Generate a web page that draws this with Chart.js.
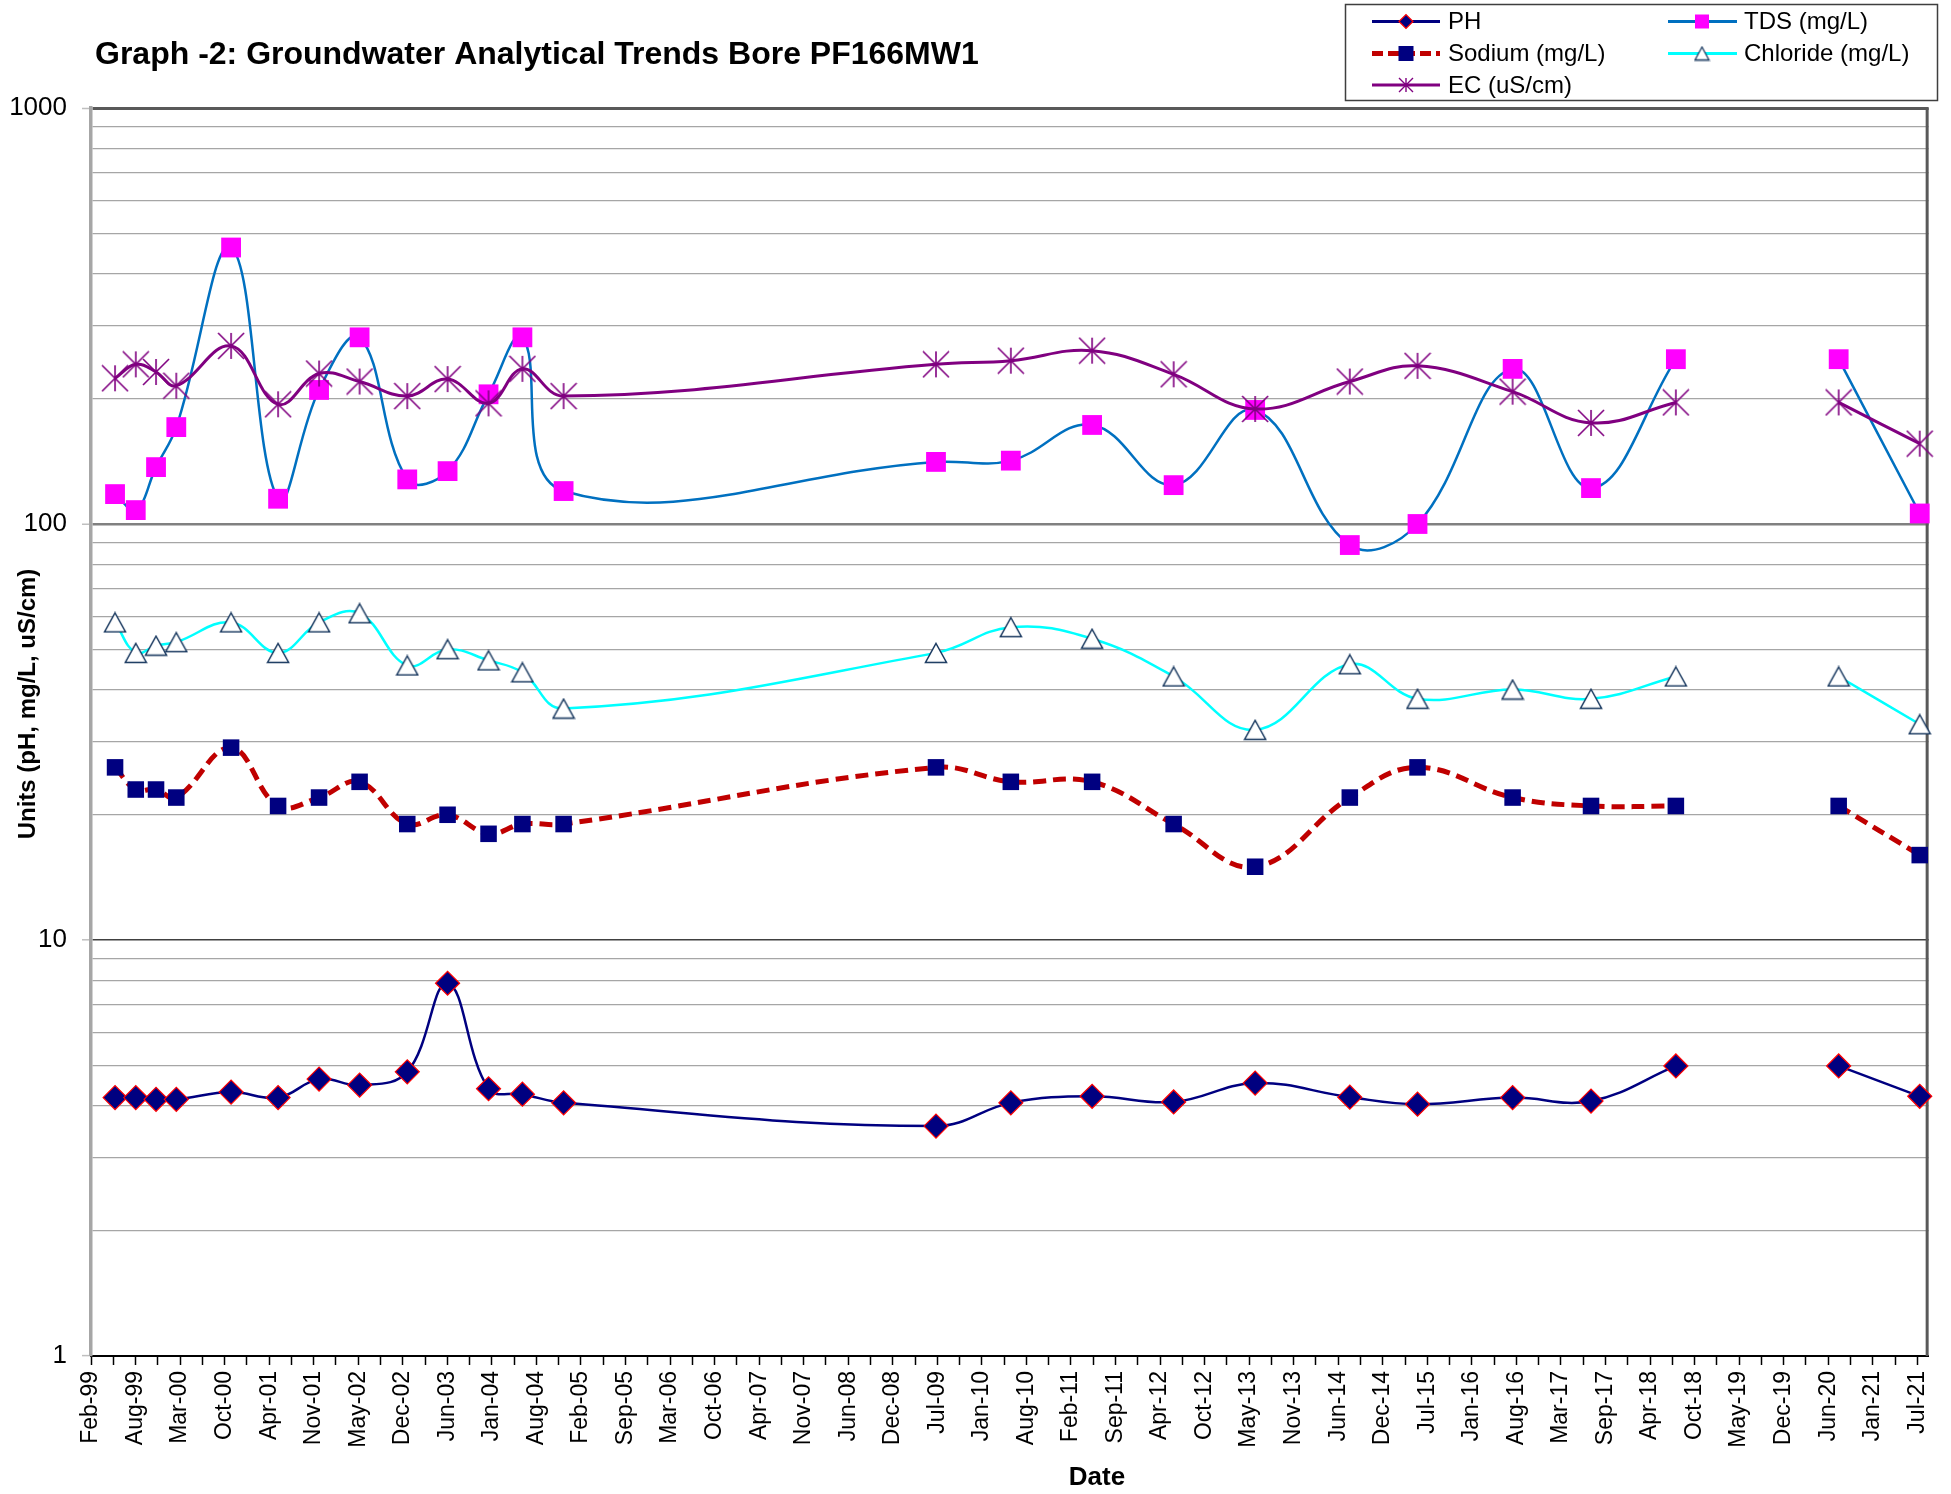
<!DOCTYPE html>
<html>
<head>
<meta charset="utf-8">
<script src="https://cdn.jsdelivr.net/npm/chart.js@4.4.0/dist/chart.umd.min.js"></script>
<style>
html,body{margin:0;padding:0;background:#ffffff;}
canvas{display:block;}
</style>
</head>
<body>
<canvas id="c" width="1951" height="1494"></canvas>
<script>
// ---------------- data ----------------
const chartTitle = 'Graph -2: Groundwater Analytical Trends Bore PF166MW1';
const xTitle = 'Date';
const yTitle = 'Units (pH, mg/L, uS/cm)';
const seriesNames = ['PH', 'TDS (mg/L)', 'Sodium (mg/L)', 'Chloride (mg/L)', 'EC (uS/cm)'];

const sampleDates = [
  '1999-05-28','1999-08-29','1999-11-28','2000-02-27','2000-10-30','2001-05-29',
  '2001-11-29','2002-05-30','2002-12-30','2003-06-29','2003-12-30','2004-05-30',
  '2004-12-01','2009-06-30','2010-06-01','2011-06-01','2012-06-01','2013-06-02',
  '2014-08-01','2015-06-01','2016-08-01','2017-07-19','2018-08-04','2019-08-01',
  '2020-08-04','2021-08-03'
];
const ph       = [4.18,4.18,4.14,4.14,4.31,4.18,4.63,4.48,4.82,7.87,4.39,4.26,4.06,3.57,4.06,4.21,4.08,4.53,4.19,4.03,4.18,4.10,4.98,null,4.98,4.21];
const tds      = [118,108,137,171,462,115,210,281,128,134,205,281,120,141,142,173,124,188,89,100,236,122,249,null,249,106];
const sodium   = [26,23,23,22,29,21,22,24,19,20,18,19,19,26,24,24,19,15,22,26,22,21,21,null,21,16];
const chloride = [58,49,51,52,58,49,58,61,45.7,50,47,44,36,49,56.5,53,43,32,46,38,40,38,43,null,43,33];
const ec       = [224,242,232,215,268,194,230,220,203,223,195,236,203,242,247,261,229,189,220,240,208,175,196,null,196,156];

const xTickLabels = [
  'Feb-99','Aug-99','Mar-00','Oct-00','Apr-01','Nov-01','May-02','Dec-02','Jun-03','Jan-04',
  'Aug-04','Feb-05','Sep-05','Mar-06','Oct-06','Apr-07','Nov-07','Jun-08','Dec-08','Jul-09',
  'Jan-10','Aug-10','Feb-11','Sep-11','Apr-12','Oct-12','May-13','Nov-13','Jun-14','Dec-14',
  'Jul-15','Jan-16','Aug-16','Mar-17','Sep-17','Apr-18','Oct-18','May-19','Dec-19','Jun-20',
  'Jan-21','Jul-21'
];
const xAxisStart = 36200;   // Excel serial date of 9-Feb-1999
const xAxisEnd = 44451;
const xMajorStep = 200;
const xMinorStep = 100;
const yTickValues = [1, 10, 100, 1000];

// ---------------- helpers ----------------
const FONT = '"Liberation Sans", Arial, Helvetica, sans-serif';
function toSerial(s) {
  const p = s.split('-').map(Number);
  return Math.round((Date.UTC(p[0], p[1] - 1, p[2]) - Date.UTC(1899, 11, 30)) / 86400000);
}
const xs = sampleDates.map(toSerial);
function pts(arr) { return arr.map((v, i) => ({ x: xs[i], y: v })); }
function isDecade(v) { const l = Math.log10(v); return Math.abs(l - Math.round(l)) < 1e-9; }

function makeAsterisk(size, color, lw) {
  const c = document.createElement('canvas');
  c.width = size; c.height = size;
  const g = c.getContext('2d');
  g.strokeStyle = color; g.lineWidth = lw;
  const m = size / 2, r = size / 2 - 1;
  g.beginPath();
  g.moveTo(m, m - r); g.lineTo(m, m + r);
  g.moveTo(m - r, m - r); g.lineTo(m + r, m + r);
  g.moveTo(m + r, m - r); g.lineTo(m - r, m + r);
  g.stroke();
  return c;
}
function makeTriangle(w, h, stroke, fill, lw) {
  const c = document.createElement('canvas');
  c.width = Math.ceil(w + lw * 2); c.height = Math.ceil(h + lw * 2);
  const g = c.getContext('2d');
  const ox = (c.width - w) / 2, oy = (c.height - h) / 2;
  g.beginPath();
  g.moveTo(ox + w / 2, oy); g.lineTo(ox + w, oy + h); g.lineTo(ox, oy + h); g.closePath();
  g.fillStyle = fill; g.fill();
  g.strokeStyle = stroke; g.lineWidth = lw; g.stroke();
  return c;
}

const ecStar = makeAsterisk(28, '#800080', 1.6);
const clTri = makeTriangle(21, 19, '#17375E', '#FFFFFF', 1.5);
const ecStarSmall = makeAsterisk(16, '#800080', 1.4);
const clTriSmall = makeTriangle(14, 13, '#17375E', '#FFFFFF', 1.3);

// ---------------- plugin: title, legend, axis titles, frame ----------------
const decorPlugin = {
  id: 'decor',
  beforeDraw(chart) {
    const ctx = chart.ctx;
    ctx.save(); ctx.fillStyle = '#ffffff'; ctx.fillRect(0, 0, chart.width, chart.height); ctx.restore();
  },
  beforeDatasetsDraw(chart) {
    const ctx = chart.ctx, a = chart.chartArea;
    ctx.save();
    ctx.strokeStyle = '#595959'; ctx.lineWidth = 3;
    ctx.beginPath(); ctx.moveTo(a.right - 1.5, a.top); ctx.lineTo(a.right - 1.5, a.bottom); ctx.stroke();
    ctx.restore();
  },
  afterDraw(chart) {
    const ctx = chart.ctx;
    ctx.save();
    // title
    ctx.fillStyle = '#000';
    ctx.font = 'bold 32px ' + FONT;
    ctx.textAlign = 'left'; ctx.textBaseline = 'middle';
    ctx.fillText(chartTitle, 95, 55);
    // y title
    ctx.save();
    ctx.translate(28, 704); ctx.rotate(-Math.PI / 2);
    ctx.font = 'bold 24px ' + FONT; ctx.textAlign = 'center'; ctx.textBaseline = 'middle';
    ctx.fillText(yTitle, 0, 0);
    ctx.restore();
    // x title
    ctx.font = 'bold 26px ' + FONT; ctx.textAlign = 'center'; ctx.textBaseline = 'middle';
    ctx.fillText(xTitle, 1097, 1478);
    // legend
    ctx.fillStyle = '#fff'; ctx.fillRect(1345, 4, 592, 96);
    ctx.strokeStyle = '#3F3F3F'; ctx.lineWidth = 1.5; ctx.strokeRect(1345.5, 4.5, 592, 96);
    const cols = [{ l0: 1372, l1: 1440, m: 1406, t: 1448 }, { l0: 1668, l1: 1737, m: 1702, t: 1744 }];
    const rows = [21.5, 53.5, 85];
    const slots = [[0, 0], [1, 0], [0, 1], [1, 1], [0, 2]];
    chart.data.datasets.forEach((ds, i) => {
      const c = cols[slots[i][0]], y = rows[slots[i][1]];
      ctx.save();
      ctx.strokeStyle = ds.borderColor; ctx.lineWidth = ds.legendLineWidth;
      ctx.setLineDash(ds.borderDash ? ds.legendDash : []);
      ctx.beginPath(); ctx.moveTo(c.l0, y); ctx.lineTo(c.l1, y); ctx.stroke();
      ctx.setLineDash([]);
      const m = c.m;
      if (i === 0) {
        const r = 7;
        ctx.beginPath(); ctx.moveTo(m - r, y); ctx.lineTo(m, y - r); ctx.lineTo(m + r, y); ctx.lineTo(m, y + r); ctx.closePath();
        ctx.fillStyle = '#000080'; ctx.fill(); ctx.strokeStyle = '#FF0000'; ctx.lineWidth = 1.2; ctx.stroke();
      } else if (i === 1) {
        ctx.fillStyle = '#FF00FF'; ctx.fillRect(m - 7, y - 7, 14, 14);
      } else if (i === 2) {
        ctx.fillStyle = '#000080'; ctx.fillRect(m - 7.5, y - 7.5, 15, 15);
      } else if (i === 3) {
        ctx.drawImage(clTriSmall, m - clTriSmall.width / 2, y - clTriSmall.height / 2);
      } else {
        ctx.drawImage(ecStarSmall, m - ecStarSmall.width / 2, y - ecStarSmall.height / 2);
      }
      ctx.fillStyle = '#000'; ctx.font = '24px ' + FONT; ctx.textAlign = 'left'; ctx.textBaseline = 'middle';
      ctx.fillText(ds.label, c.t, y + 1);
      ctx.restore();
    });
    ctx.restore();
  }
};

// ---------------- chart ----------------
const common = { tension: 0.4, fill: false, spanGaps: false, clip: false, pointHoverRadius: 0 };
new Chart(document.getElementById('c'), {
  type: 'line',
  data: {
    datasets: [
      Object.assign({}, common, {
        label: seriesNames[0], data: pts(ph), order: 5,
        borderColor: '#000080', borderWidth: 2.5,
        pointStyle: 'rectRot', pointRadius: 12,
        pointBackgroundColor: '#000080', pointBorderColor: '#FF0000', pointBorderWidth: 1.2,
        legendLineWidth: 3
      }),
      Object.assign({}, common, {
        label: seriesNames[1], data: pts(tds), order: 4,
        borderColor: '#0070C0', borderWidth: 2.5,
        pointStyle: 'rect', pointRadius: 14,
        pointBackgroundColor: '#FF00FF', pointBorderColor: '#FF00FF', pointBorderWidth: 0,
        legendLineWidth: 3
      }),
      Object.assign({}, common, {
        label: seriesNames[2], data: pts(sodium), order: 3,
        borderColor: '#C00000', borderWidth: 5, borderDash: [13, 7],
        pointStyle: 'rect', pointRadius: 11.7,
        pointBackgroundColor: '#000080', pointBorderColor: '#000080', pointBorderWidth: 0,
        legendLineWidth: 5, legendDash: [11, 5]
      }),
      Object.assign({}, common, {
        label: seriesNames[3], data: pts(chloride), order: 2,
        borderColor: '#00FFFF', borderWidth: 2.5,
        pointStyle: clTri, pointRadius: 11,
        legendLineWidth: 3
      }),
      Object.assign({}, common, {
        label: seriesNames[4], data: pts(ec), order: 1,
        borderColor: '#800080', borderWidth: 3,
        pointStyle: ecStar, pointRadius: 14,
        legendLineWidth: 3
      })
    ]
  },
  options: {
    responsive: false,
    animation: false,
    devicePixelRatio: 1,
    events: [],
    layout: { padding: { left: 0, right: 13, top: 108, bottom: 0 } },
    plugins: { legend: { display: false }, title: { display: false }, tooltip: { enabled: false } },
    scales: {
      x: {
        type: 'linear', min: xAxisStart, max: xAxisEnd,
        afterBuildTicks: (s) => {
          const t = [];
          for (let v = xAxisStart; v <= xAxisEnd; v += xMinorStep) t.push({ value: v });
          s.ticks = t;
        },
        afterFit: (s) => { s.height = 138; },
        ticks: {
          autoSkip: false, minRotation: 90, maxRotation: 90, padding: 6,
          color: '#000', font: { size: 23, family: FONT },
          callback: (v) => {
            const k = (v - xAxisStart) / xMajorStep;
            return Number.isInteger(k) ? xTickLabels[k] : '';
          }
        },
        grid: { drawOnChartArea: false, drawTicks: true, tickLength: 9, tickColor: '#000', tickWidth: 1.5 },
        border: { display: true, color: '#000', width: 2 }
      },
      y: {
        type: 'logarithmic', min: 1, max: 1000,
        afterBuildTicks: (s) => {
          const t = [];
          [1, 10, 100].forEach(d => { for (let m = 1; m < 10; m++) t.push({ value: d * m }); });
          t.push({ value: 1000 });
          s.ticks = t;
        },
        afterFit: (s) => { s.width = 91; },
        ticks: {
          autoSkip: false, padding: 15, color: '#000', font: { size: 26, family: FONT },
          callback: (v) => yTickValues.includes(v) ? String(v) : ''
        },
        grid: {
          color: (c) => {
            const v = c.tick ? c.tick.value : 0;
            if (v === 1) return 'rgba(0,0,0,0)';
            if (v === 1000) return '#595959';
            if (v === 100) return '#808080';
            if (v === 10) return '#404040';
            return '#A6A6A6';
          },
          lineWidth: (c) => {
            const v = c.tick ? c.tick.value : 0;
            if (v === 1000) return 3;
            if (v === 100) return 2.5;
            if (v === 10) return 1.6;
            return 1.2;
          },
          drawTicks: true, tickLength: 9, tickWidth: 1.5,
          tickColor: (c) => (c.tick && isDecade(c.tick.value)) ? '#BFBFBF' : 'rgba(0,0,0,0)'
        },
        border: { display: true, color: '#A6A6A6', width: 3.5 }
      }
    }
  },
  plugins: [decorPlugin]
});
</script>
</body>
</html>
